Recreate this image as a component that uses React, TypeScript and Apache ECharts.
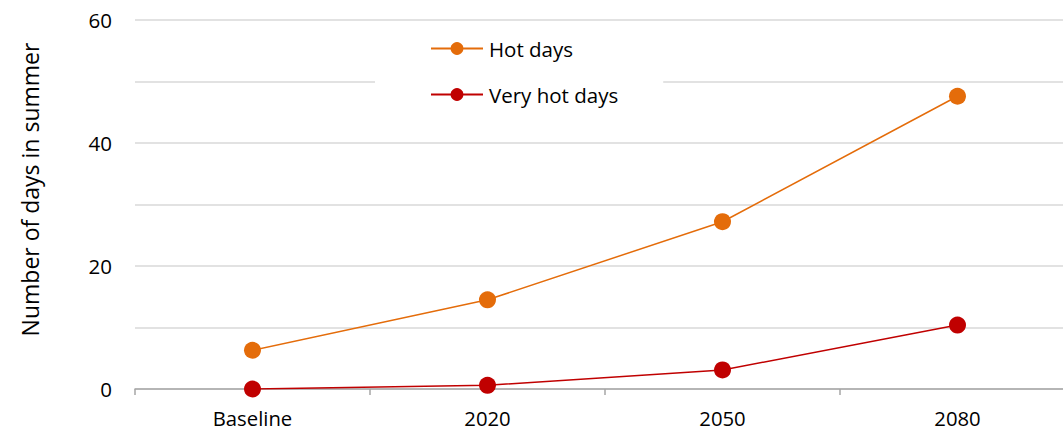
import React, { useEffect, useRef } from "react";
import * as echarts from "echarts";

const categories = ["Baseline", "2020", "2050", "2080"];
const hotDays = [6.3, 14.5, 27.2, 47.6];
const veryHotDays = [0, 0.6, 3.1, 10.4];
const seriesNames = ["Hot days", "Very hot days"];
const yAxisTitle = "Number of days in summer";

export default function App() {
  const ref = useRef<HTMLDivElement>(null);
  useEffect(() => {
    if (!ref.current) return;
    const chart = echarts.init(ref.current, null, { renderer: "svg" });
    const font = "'Open Sans', 'Noto Sans', sans-serif";
    chart.setOption({
      animation: false,
      backgroundColor: "#ffffff",
      textStyle: { fontFamily: font },
      grid: { left: 135, top: 20, width: 940, bottom: 43, outerBoundsMode: "none", containLabel: false },
      legend: {
        orient: "vertical",
        left: 375,
        top: 24,
        backgroundColor: "#ffffff",
        padding: [12, 45, 14, 55],
        itemWidth: 52,
        itemHeight: 16,
        itemGap: 21,
        textStyle: { fontSize: 20.5, color: "#000", fontFamily: font, padding: [0, 0, 0, 1], lineHeight: 25 },
        data: seriesNames,
      },
      xAxis: {
        type: "category",
        data: categories,
        boundaryGap: true,
        axisLine: { lineStyle: { color: "#a6a6a6", width: 1.5 } },
        axisTick: { show: true, length: 6, lineStyle: { color: "#a6a6a6", width: 1.5 } },
        axisLabel: { color: "#000", fontSize: 20.3, lineHeight: 20, margin: 19, fontFamily: font },
        splitLine: { show: false },
      },
      yAxis: {
        type: "value",
        min: 0,
        max: 60,
        interval: 10,
        name: yAxisTitle,
        nameLocation: "middle",
        nameGap: 94,
        nameTextStyle: { fontSize: 23, color: "#000", fontFamily: font, padding: [0, 0, 0, 30] },
        axisLine: { show: false },
        axisTick: { show: false },
        axisLabel: {
          color: "#000",
          fontSize: 20.5,
          margin: 23,
          fontFamily: font,
          formatter: (v: number) => (v % 20 === 0 ? String(v) : ""),
        },
        splitLine: { lineStyle: { color: "#d9d9d9", width: 1.5 } },
      },
      series: [
        {
          name: seriesNames[0],
          type: "line",
          data: hotDays,
          symbol: "circle",
          symbolSize: 17,
          itemStyle: { color: "#e46c0a" },
          lineStyle: { color: "#e46c0a", width: 1.5 },
          z: 3,
        },
        {
          name: seriesNames[1],
          type: "line",
          data: veryHotDays,
          symbol: "circle",
          symbolSize: 17,
          itemStyle: { color: "#c00000" },
          lineStyle: { color: "#c00000", width: 1.5 },
          z: 4,
        },
      ],
    });
    return () => chart.dispose();
  }, []);
  return <div ref={ref} style={{ width: 1063, height: 432, position: "absolute", left: 0, top: 0 }} />;
}
